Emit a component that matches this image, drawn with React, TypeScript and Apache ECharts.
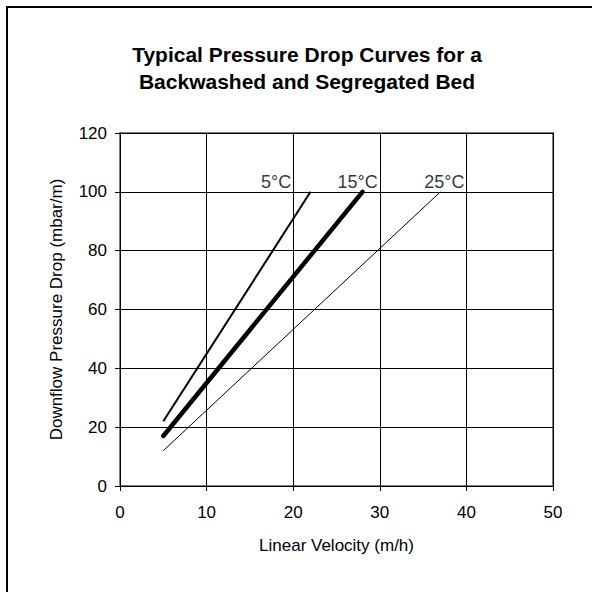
import React, { useEffect, useRef } from "react";
import * as echarts from "echarts";

const titleLines = ["Typical Pressure Drop Curves for a", "Backwashed and Segregated Bed"];
const xAxisName = "Linear Velocity (m/h)";
const yAxisName = "Downflow Pressure Drop (mbar/m)";
const seriesNames = ["5°C", "15°C", "25°C"];
const line5 = [[5, 22], [22, 100]];
const line15 = [[5, 17], [28, 100]];
const line25 = [[5, 12], [37, 100]];
const labelPoints = [[20, 100], [30, 100], [40, 100]];

export default function App() {
  const ref = useRef<HTMLDivElement>(null);
  useEffect(() => {
    if (!ref.current) return;
    const chart = echarts.init(ref.current, null, { renderer: "svg" });
    const font = "Liberation Sans, Arial, sans-serif";
    chart.setOption({
      animation: false,
      backgroundColor: "#ffffff",
      title: {
        text: titleLines.join("\n"),
        left: 302,
        top: 36,
        textAlign: "center",
        textStyle: { fontFamily: font, fontSize: 21, fontWeight: "bold", color: "#000", lineHeight: 27 },
      },
      graphic: [
        {
          type: "rect",
          shape: { x: 7, y: 7, width: 620, height: 620 },
          style: { fill: "none", stroke: "#000", lineWidth: 2 },
          silent: true,
        },
      ],
      grid: {
        left: 120,
        top: 133,
        right: 39,
        bottom: 106,
        show: true,
        borderColor: "#808080",
        borderWidth: 2,
        backgroundColor: "transparent",
      },
      xAxis: {
        type: "value",
        min: 0,
        max: 50,
        interval: 10,
        name: xAxisName,
        nameLocation: "middle",
        nameGap: 51,
        nameTextStyle: { fontFamily: font, fontSize: 17, color: "#000" },
        axisLine: { show: true, lineStyle: { color: "#000", width: 1 } },
        axisTick: { show: true, length: 5, inside: false, lineStyle: { color: "#000" } },
        axisLabel: { fontFamily: font, fontSize: 17, color: "#000", margin: 18 },
        splitLine: { show: true, lineStyle: { color: "#000", width: 1 } },
      },
      yAxis: {
        type: "value",
        min: 0,
        max: 120,
        interval: 20,
        name: yAxisName,
        nameLocation: "middle",
        nameGap: 55,
        nameTextStyle: { fontFamily: font, fontSize: 17, color: "#000" },
        axisLine: { show: true, lineStyle: { color: "#000", width: 1 } },
        axisTick: { show: true, length: 5, inside: false, lineStyle: { color: "#000" } },
        axisLabel: { fontFamily: font, fontSize: 17, color: "#000", margin: 13 },
        splitLine: { show: true, lineStyle: { color: "#000", width: 1 } },
      },
      series: [
        {
          name: seriesNames[0],
          type: "line",
          data: line5,
          showSymbol: false,
          symbol: "none",
          lineStyle: { color: "#000", width: 2 },
        },
        {
          name: seriesNames[1],
          type: "line",
          data: line15,
          showSymbol: false,
          symbol: "none",
          lineStyle: { color: "#000", width: 4.5, cap: "round" },
        },
        {
          name: seriesNames[2],
          type: "line",
          data: line25,
          showSymbol: false,
          symbol: "none",
          lineStyle: { color: "#000", width: 1 },
        },
        {
          type: "scatter",
          symbolSize: 0,
          data: labelPoints.map((p, i) => ({ value: p, name: seriesNames[i] })),
          label: {
            show: true,
            position: "left",
            distance: 2,
            offset: [0, -10],
            formatter: (p: any) => p.name,
            fontFamily: font,
            fontSize: 18,
            color: "#000",
          },
          silent: true,
        },
      ],
    });
    return () => chart.dispose();
  }, []);
  return (
    <div
      ref={ref}
      style={{ position: "fixed", left: 0, top: 0, width: 592, height: 592 }}
    />
  );
}
